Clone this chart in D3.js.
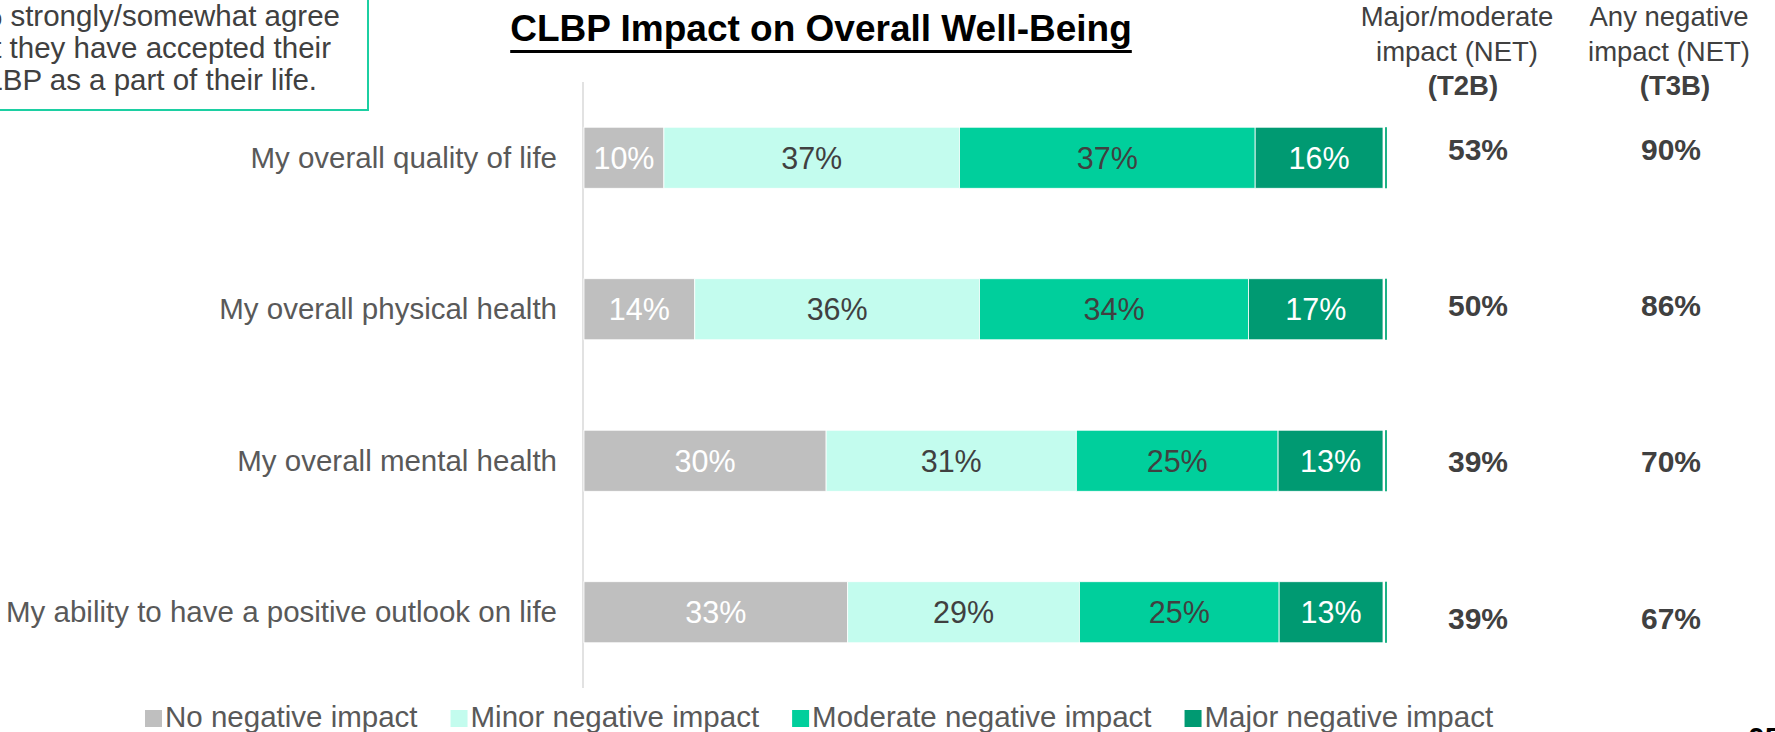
<!DOCTYPE html>
<html>
<head>
<meta charset="utf-8">
<script src="https://cdn.jsdelivr.net/npm/d3@7"></script>
<style>
  html,body{margin:0;padding:0;background:#fff;overflow:hidden}
  svg{display:block;font-family:"Liberation Sans",Arial,sans-serif}
</style>
</head>
<body>
<div id="chart"></div>
<script>
// CLBP impact on overall well-being — stacked 100% bars + NET columns
const categories = [
  "My overall quality of life",
  "My overall physical health",
  "My overall mental health",
  "My ability to have a positive outlook on life"
];
const seriesNames = ["No negative impact","Minor negative impact","Moderate negative impact","Major negative impact"];
const noImpact = [10, 14, 30, 33];
const minorImpact = [37, 36, 31, 29];
const moderateImpact = [37, 34, 25, 25];
const majorImpact = [16, 17, 13, 13];
const netT2B = [53, 50, 39, 39];
const netT3B = [90, 86, 70, 67];
const noteLines = ["% strongly/somewhat agree", "that they have accepted their", "CLBP as a part of their life."];

const W=1775, H=732;
const colors=['#bfbfbf','#c3fcee','#00cf9c','#009a72'];
const labelColors=['#ffffff','#404040','#404040','#ffffff'];

const rows=categories.map((c,i)=>({cat:c, s0:noImpact[i], s1:minorImpact[i], s2:moderateImpact[i], s3:majorImpact[i]}));
const keys=['s0','s1','s2','s3'];
const stacked=d3.stack().keys(keys).offset(d3.stackOffsetExpand)(rows);

const svg=d3.select('#chart').append('svg').attr('width',W).attr('height',H);

const x=d3.scaleLinear().domain([0,1]).range([584,1383]);
const y=d3.scaleBand().domain(categories).range([82,688]).paddingInner(0.597).paddingOuter(0.2985);
const yNet=d3.scalePoint().domain(categories).range([149,618]);

// note box (cut off at left edge)
svg.append('path').attr('d','M-5,110 H368 V-5').attr('fill','none')
  .attr('stroke','#1ccfa2').attr('stroke-width',2);
const noteEnds=[340,331,317];
svg.append('g').selectAll('text').data(noteLines).join('text')
  .attr('x',(d,i)=>noteEnds[i]).attr('y',(d,i)=>26+i*32)
  .attr('text-anchor','end').attr('font-size',29.5).attr('fill','#404040').text(d=>d);

// title
const title=svg.append('text').attr('x',821).attr('y',41).attr('text-anchor','middle')
  .attr('font-size',37).attr('font-weight','bold').attr('fill','#000')
  .text('CLBP Impact on Overall Well-Being');
const tb=title.node().getBBox();
svg.append('rect').attr('x',tb.x).attr('y',50).attr('width',tb.width).attr('height',3).attr('fill','#000');

// axis line
svg.append('line').attr('x1',583).attr('x2',583).attr('y1',y.range()[0]).attr('y2',y.range()[1])
  .attr('stroke','#d9d9d9').attr('stroke-width',1.5);

// category labels
svg.append('g').selectAll('text').data(categories).join('text')
  .attr('x',557).attr('y',d=>y(d)+y.bandwidth()/2+10)
  .attr('text-anchor','end').attr('font-size',29.5).attr('fill','#595959').text(d=>d);

// bars
const layer=svg.append('g').selectAll('g').data(stacked).join('g')
  .attr('fill',(d,i)=>colors[i]);
layer.selectAll('rect').data(d=>d).join('rect')
  .attr('x',d=>x(d[0])).attr('width',d=>x(d[1])-x(d[0]))
  .attr('y',d=>y(d.data.cat)).attr('height',y.bandwidth())
  .attr('stroke','#fff').attr('stroke-width',0.8);
layer.each(function(L,i){
  d3.select(this).selectAll('text').data(L).join('text')
    .attr('x',d=>(x(d[0])+x(d[1]))/2).attr('y',d=>y(d.data.cat)+y.bandwidth()/2+11)
    .attr('text-anchor','middle').attr('font-size',30.5).attr('fill',labelColors[i])
    .text(d=>d.data[L.key]+'%');
});

// thin separator after each bar
svg.append('g').selectAll('rect').data(categories).join('rect')
  .attr('x',x(1)+2).attr('width',2).attr('y',d=>y(d)).attr('height',y.bandwidth())
  .attr('fill','#1db386');

// NET columns
const netCols=[
  {head:['Major/moderate','impact (NET)','(T2B)'], hx:1457, vx:1478, vals:netT2B},
  {head:['Any negative','impact (NET)','(T3B)'], hx:1669, vx:1671, vals:netT3B}
];
netCols.forEach(c=>{
  svg.append('g').selectAll('text').data(c.head).join('text')
    .attr('x',(d,i)=>i===2?c.hx+6:c.hx).attr('y',(d,i)=>26+i*34.5).attr('text-anchor','middle')
    .attr('font-size',27.5).attr('font-weight',(d,i)=>i===2?'bold':'normal')
    .attr('fill','#404040').text(d=>d);
  svg.append('g').selectAll('text').data(c.vals).join('text')
    .attr('x',c.vx).attr('y',(d,i)=>yNet(categories[i])+10.5).attr('text-anchor','middle')
    .attr('font-size',30).attr('font-weight','bold').attr('fill','#404040').text(d=>d+'%');
});

// legend
const leg=svg.append('g');
let lx=145;
seriesNames.forEach((s,i)=>{
  leg.append('rect').attr('x',lx).attr('y',710).attr('width',17).attr('height',17).attr('fill',colors[i]);
  const t=leg.append('text').attr('x',lx+20).attr('y',727).attr('font-size',29.5).attr('fill','#595959').text(s);
  lx+=20+t.node().getComputedTextLength()+33;
});

// page number (cut at bottom)
svg.append('text').attr('x',1748).attr('y',748).attr('font-size',30).attr('font-weight','bold').attr('fill','#000').text('05');
</script>
</body>
</html>
